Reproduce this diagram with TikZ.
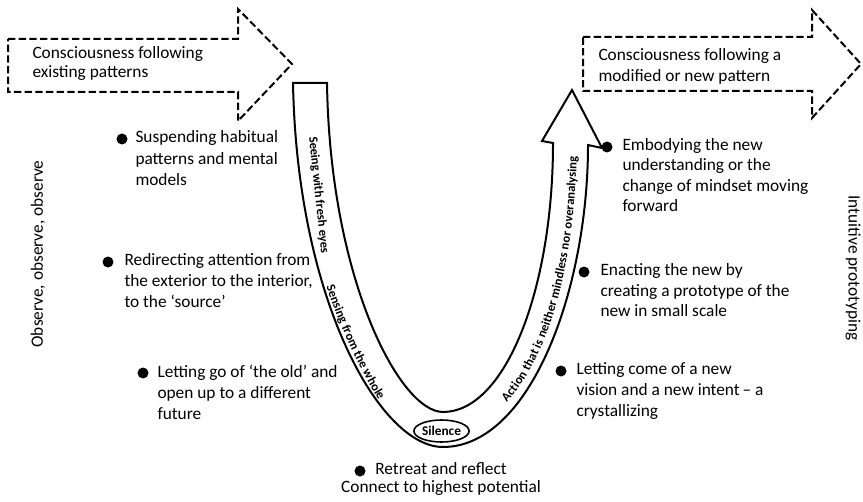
\documentclass[tikz,border=0pt]{standalone}
\usepackage{fontspec}
\setmainfont{Carlito}
\usetikzlibrary{shapes.geometric,decorations.text}

\tikzset{every picture/.style={line width=0.75pt}}
\tikzset{
  flowarrow/.style={line width=1.5pt, dash pattern=on 5.5pt off 2.5pt, line join=miter},
  uarrow/.style={line width=1.5pt, fill=white, line join=miter},
  blob/.style={circle, fill=black, inner sep=0pt, minimum size=8.25pt},
  textblock/.style={anchor=north west, align=left, inner sep=0pt, font=\fontsize{13}{15.75}\selectfont},
  armlabel/.style={inner sep=0pt, font=\bfseries\fontsize{9.5}{11}\selectfont},
  armpath/.style={decorate, decoration={text along path, text align=center, raise=-3.2pt, text={|\bfseries\fontsize{9.5}{11}\selectfont|#1}}},
  sidelabel/.style={inner sep=0pt, font=\fontsize{13}{15}\selectfont}
}

\begin{document}
\begin{tikzpicture}[x=0.75pt,y=0.75pt,yscale=-1,xscale=1]
	\useasboundingbox (0,0) rectangle (863,502);

	%Shape: Right Arrow [id:dp_existing]
	\draw [flowarrow] (8,39) -- (238,39) -- (238,9) -- (292,64) -- (238,121) -- (238,92) -- (8,92) -- cycle ;
	%Shape: Right Arrow [id:dp_modified]
	\draw [flowarrow] (583,37) -- (812,37) -- (812,10) -- (861,64) -- (812,118) -- (812,91) -- (583,91) -- cycle ;

	%Shape: U Arrow [id:dp_u]
	\draw [uarrow] (327,83) .. controls (330,280) and (400,412) .. (443,412) .. controls (505,412) and (553,290) .. (553,143) -- (542,141) -- (572,90) -- (602,148) -- (588,145) .. controls (588,290) and (530,447) .. (443,447) .. controls (380,447) and (297,300) .. (293,83) -- cycle ;

	%Shape: Ellipse [id:dp_silence]
	\node (silence) [draw, ellipse, line width=1.2pt, fill=white, minimum width=40pt, minimum height=16.5pt, inner sep=0pt, font=\bfseries\fontsize{10}{11}\selectfont] at (441.5,431) {Silence};

	% Text Node
	\node (seeing) [armlabel, rotate=-84] at (318.5,195) {Seeing with fresh eyes};
	% Text Path
	\path [armpath={Sensing from the whole}] (326,272) .. controls (340,318) and (366,375) .. (390,410) ;
	% Text Path
	\path [armpath={Action that is neither mindless nor overanalysing}] (488,414) .. controls (538,375) and (572,280) .. (573,135) ;

	% Text Node
	\node (existing) [textblock, font=\fontsize{13}{14.25}\selectfont] at (32,46) {Consciousness following\\existing patterns};
	% Text Node
	\node (modified) [textblock, font=\fontsize{13}{15.5}\selectfont] at (598,48) {Consciousness following a\\modified or new pattern};

	% Bullets, left
	\node (dotsuspend) [blob] at (122,139) {};
	\node (suspend) [textblock, font=\fontsize{13}{16.25}\selectfont] at (135,130) {Suspending habitual\\patterns and mental\\models};
	\node (dotredirect) [blob] at (108,262) {};
	\node (redirect) [textblock] at (124,253) {Redirecting attention from\\the exterior to the interior,\\to the ‘source’};
	\node (dotlettinggo) [blob] at (143,373) {};
	\node (lettinggo) [textblock] at (157,364) {Letting go of ‘the old’ and\\open up to a different\\future};

	% Bullets, right
	\node (dotembody) [blob] at (607,147) {};
	\node (embody) [textblock, font=\fontsize{13}{15.25}\selectfont] at (622,138) {Embodying the new\\understanding or the\\change of mindset moving\\forward};
	\node (dotenact) [blob] at (584,272) {};
	\node (enact) [textblock, font=\fontsize{13}{15.5}\selectfont] at (600,263) {Enacting the new by\\creating a prototype of the\\new in small scale};
	\node (dotlettingcome) [blob] at (561,371) {};
	\node (lettingcome) [textblock] at (576,362) {Letting come of a new\\vision and a new intent\,– a\\crystallizing};

	% Bullet, bottom
	\node (dotretreat) [blob] at (360,471) {};
	\node (retreat) [textblock, anchor=north, align=center, font=\fontsize{13}{13.5}\selectfont] at (441,462) {Retreat and reflect\\Connect to highest potential};

	% Text Node
	\node (observe) [sidelabel, rotate=90] at (38,254) {Observe, observe, observe};
	% Text Node
	\node (prototyping) [sidelabel, rotate=-90] at (853,268) {Intuitive prototyping};

\end{tikzpicture}
\end{document}
